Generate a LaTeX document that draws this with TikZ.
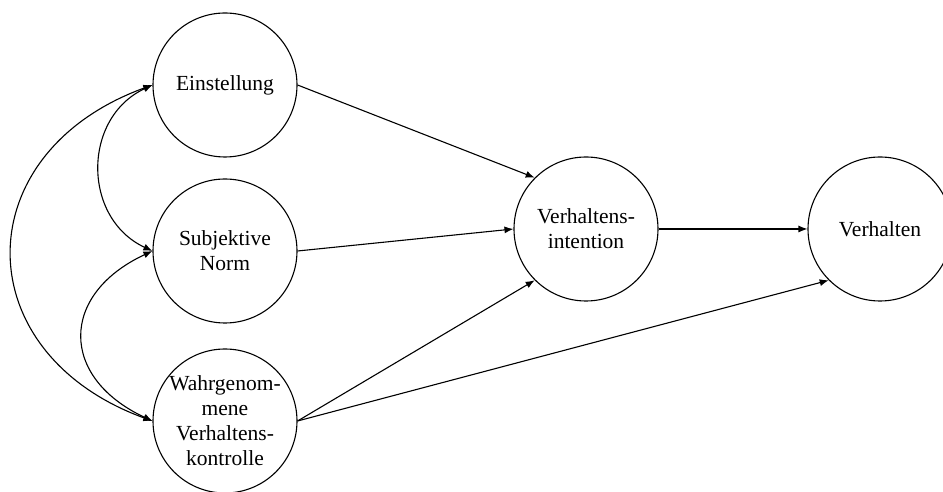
\documentclass[tikz,border=0pt]{standalone}
\usepackage{fontspec}
\setmainfont{Liberation Serif}
\usetikzlibrary{arrows.meta}
\begin{document}
\begin{tikzpicture}[x=1pt,y=1pt,
  construct/.style={circle,draw,line width=1.1pt,minimum size=144pt,inner sep=0pt,
    align=center,font=\fontsize{21.5}{25}\selectfont},
  link/.style={line width=1.1pt,-{Latex[length=9pt,width=7pt]}},
  corr/.style={line width=1.1pt,{Latex[length=9pt,width=7pt]}-{Latex[length=9pt,width=7pt]}}]
\useasboundingbox (0,0) rectangle (943,492);
% predictors
\node[construct] (E) at (225,407) {Einstellung};
\node[construct] (S) at (225,241) {Subjektive\\Norm};
\node[construct] (W) at (225,71) {Wahrgenom-\\mene\\Verhaltens-\\kontrolle};
% intention and behaviour
\node[construct] (I) at (586,263) {Verhaltens-\\intention};
\node[construct] (V) at (880,263) {Verhalten};
% directed paths
\draw[link] (E.east) -- (I.north west);
\draw[link] (S.east) -- (I.west);
\draw[link] (W.east) -- (I.south west);
\draw[link] (W.east) -- (V.south west);
\draw[link] (I.east) -- (V.west);
% correlations among predictors
\draw[corr] (E.west) to[out=205,in=155,looseness=1.2] (S.west);
\draw[corr] (S.west) to[out=205,in=155,looseness=1.55] (W.west);
\draw[corr] (E.west) to[out=200,in=160,looseness=1.52] (W.west);
\end{tikzpicture}
\end{document}
